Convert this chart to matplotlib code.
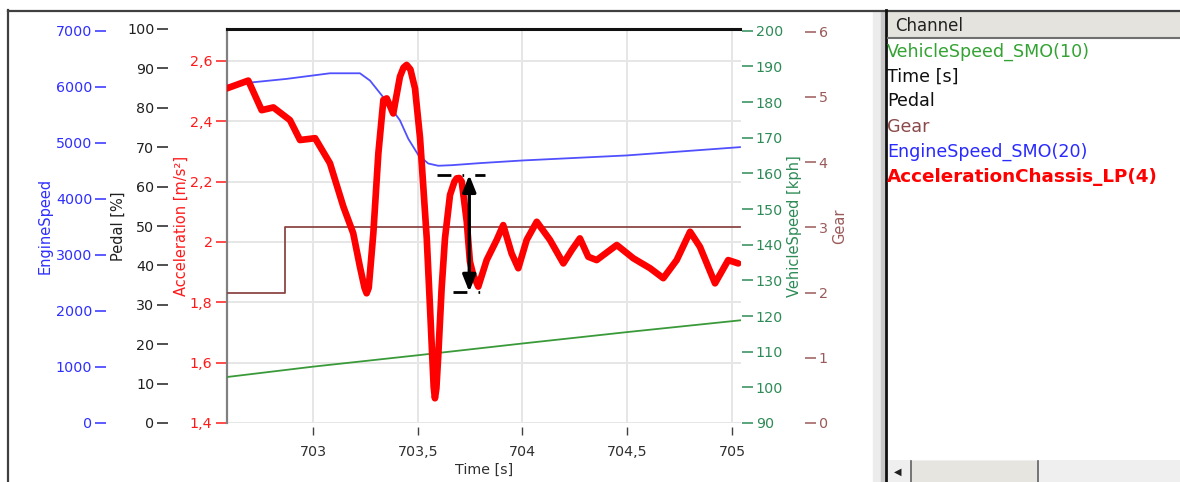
import matplotlib.pyplot as plt
from matplotlib.patches import Rectangle

plt.rcParams['font.family'] = ['DejaVu Sans']

# --- data ---
time_acc = [702.588, 702.691, 702.755, 702.811, 702.890, 702.938, 703.010, 703.081,
            703.145, 703.192, 703.224, 703.246, 703.256, 703.266, 703.288, 703.312,
            703.336, 703.352, 703.383, 703.415, 703.432, 703.447, 703.465, 703.487,
            703.511, 703.527, 703.543, 703.558, 703.569, 703.576, 703.582, 703.589,
            703.598, 703.614, 703.630, 703.654, 703.675, 703.686, 703.698, 703.710,
            703.734, 703.749, 703.765, 703.789, 703.829, 703.877, 703.908, 703.948,
            703.980, 704.020, 704.068, 704.131, 704.195, 704.235, 704.274, 704.314,
            704.354, 704.450, 704.529, 704.609, 704.672, 704.736, 704.800, 704.847,
            704.919, 704.982, 705.030]
accel = [2.509, 2.535, 2.437, 2.446, 2.404, 2.338, 2.344, 2.261,
         2.117, 2.029, 1.918, 1.848, 1.830, 1.848, 2.029, 2.294,
         2.471, 2.476, 2.426, 2.548, 2.578, 2.587, 2.572, 2.509,
         2.344, 2.178, 2.012, 1.791, 1.625, 1.520, 1.482, 1.515,
         1.625, 1.846, 2.012, 2.156, 2.200, 2.211, 2.212, 2.200,
         2.067, 1.935, 1.891, 1.852, 1.940, 2.007, 2.056, 1.962,
         1.913, 2.007, 2.067, 2.007, 1.929, 1.973, 2.012, 1.951,
         1.940, 1.990, 1.946, 1.913, 1.880, 1.940, 2.034, 1.984,
         1.863, 1.940, 1.929]

time_eng = [702.588, 702.715, 702.874, 703.081, 703.224, 703.272, 703.336, 703.415,
            703.455, 703.503, 703.550, 703.598, 703.662, 703.797, 704.004, 704.497, 705.038]
engine_speed = [6020, 6080, 6140, 6240, 6240, 6110, 5810, 5400,
                5070, 4780, 4630, 4590, 4600, 4637, 4685, 4774, 4922]

time_veh = [702.59, 703.0, 703.5, 704.0, 704.5, 705.04]
vehicle_speed = [102.9, 105.8, 109.0, 112.3, 115.5, 118.8]

time_gear = [702.588, 702.866, 705.04]
gear = [2, 3, 3]

time_pedal = [702.588, 705.04]
pedal = [100, 100]

# marked amplitude (first overshoot peak -> next trough)
amp_time = 703.746
amp_top, amp_bottom = 2.222, 1.835
amp_top_span = (703.590, 703.821)
amp_bottom_span = (703.668, 703.845)

x_ticks = [703, 703.5, 704, 704.5, 705]
x_labels = ['703', '703,5', '704', '704,5', '705']
acc_ticks = [1.4, 1.6, 1.8, 2.0, 2.2, 2.4, 2.6]
acc_labels = ['1,4', '1,6', '1,8', '2', '2,2', '2,4', '2,6']
eng_ticks = list(range(0, 7001, 1000))
pedal_ticks = list(range(0, 101, 10))
veh_ticks = list(range(90, 201, 10))
gear_ticks = list(range(0, 7))

channels = ['VehicleSpeed_SMO(10)', 'Time [s]', 'Pedal', 'Gear',
            'EngineSpeed_SMO(20)', 'AccelerationChassis_LP(4)']

c_blue = '#2f2fff'
c_red = '#ff1a1a'
c_green_txt = '#2e8b57'
c_green = '#3a9a3a'
c_brown = '#9b5a5a'
c_brown_line = '#8c4646'
c_black = '#202020'

fig = plt.figure(figsize=(11.8, 4.82), dpi=100)

# window frame / channel list, pixel coordinates
bg = fig.add_axes([0, 0, 1, 1], zorder=-5)
bg.set_xlim(0, 1180)
bg.set_ylim(482, 0)
bg.axis('off')
bg.plot([8, 8], [10, 482], color='#404040', lw=1.6)
bg.plot([8, 1180], [10.5, 10.5], color='#404040', lw=1.6)
bg.add_patch(Rectangle((873, 11), 9, 471, color='#ececec'))
bg.add_patch(Rectangle((881, 11), 3, 471, color='#c8c8c8'))
bg.plot([886, 886], [10, 482], color='#101010', lw=2)
bg.add_patch(Rectangle((888, 12), 292, 25, fc='#e4e3dd', ec='none'))
bg.plot([888, 1180], [37.5, 37.5], color='#707070', lw=1.5)
bg.text(895, 26, 'Channel', fontsize=12, color='#202020', va='center')
ch_colors = ['#33a333', '#101010', '#101010', '#8b4a4a', '#2a2aff', '#ff0000']
for i, (name, col) in enumerate(zip(channels, ch_colors)):
    bold = i == 5
    bg.text(887, 51.5 + 25 * i, name, fontsize=13.2 if bold else 12.6, color=col,
            va='center', fontweight='bold' if bold else 'normal')
bg.add_patch(Rectangle((888, 460), 292, 22, fc='#efefef', ec='none'))
bg.add_patch(Rectangle((912, 461), 126, 21, fc='#e6e5e0', ec='none'))
bg.plot([911, 911], [461, 482], color='#606060', lw=1.2)
bg.plot([1038, 1038], [461, 482], color='#606060', lw=1.2)
bg.text(898, 472, '\u25C0', fontsize=7, color='#202020', ha='center', va='center')

# main axes: acceleration scale, grid and time axis
ax = fig.add_axes([227 / 1180, 59 / 482, 514 / 1180, 394 / 482])
xlim = (702.5895, 705.043)
ax.set_xlim(*xlim)
ax.set_ylim(1.4, 2.706)
for s in ['top', 'right', 'bottom']:
    ax.spines[s].set_visible(False)
ax.spines['bottom'].set_position(('outward', 3))
ax.spines['left'].set_color('#808080')
ax.spines['left'].set_linewidth(1.6)
ax.set_xticks(x_ticks)
ax.set_xticklabels(x_labels)
ax.set_yticks(acc_ticks)
ax.set_yticklabels(acc_labels)
ax.tick_params(axis='x', direction='out', length=6, width=1, color='#404040',
               pad=6.5, labelsize=10.3, labelcolor='#303030')
ax.tick_params(axis='y', direction='out', length=8, width=1.1, color=c_red,
               pad=2.4, labelsize=10.3, labelcolor=c_red)
ax.grid(True, color='#e6e6e6', lw=1.4)
ax.set_axisbelow(True)
ax.set_xlabel('Time [s]', fontsize=10.3, color='#303030', va='top')
ax.xaxis.set_label_coords(0.5, -0.1015)
ax.set_ylabel('Acceleration [m/s\u00b2]', fontsize=10.5, color=c_red)
ax.yaxis.set_label_coords(-0.0739, 0.5)


def side_axis(pos, side, lim, ticks, color, label, label_x, data_t, data_y, lcolor, lw, **kw):
    a = ax.twinx()
    a.set_ylim(*lim)
    for s in a.spines.values():
        s.set_visible(False)
    a.yaxis.set_ticks_position(side)
    a.yaxis.set_label_position(side)
    a.spines[side].set_position(('axes', pos))
    a.set_yticks(ticks)
    a.tick_params(axis='y', direction='out', length=7.6, width=1.1, color=color,
                  pad=2.2, labelsize=10.3, labelcolor=color)
    a.set_ylabel(label, fontsize=10.5, color=color)
    a.yaxis.set_label_coords(label_x, 0.5)
    a.plot(data_t, data_y, color=lcolor, lw=lw, **kw)
    return a


ap = side_axis(-59 / 514, 'left', (0, 100), pedal_ticks, c_black, 'Pedal [%]', -0.1965,
               time_pedal, pedal, '#111111', 2.2, clip_on=False)
ae = side_axis(-121 / 514, 'left', (0, 7030), eng_ticks, c_blue, 'EngineSpeed', -0.339,
               time_eng, engine_speed, '#5050ff', 1.3)
ag = side_axis(1.1245, 'right', (0, 6.04), gear_ticks, c_brown, 'Gear', 1.1765,
               time_gear, gear, c_brown_line, 1.3, drawstyle='steps-post')
av = side_axis(1.002, 'right', (90, 200.5), veh_ticks, c_green_txt, 'VehicleSpeed [kph]', 1.0889,
               time_veh, vehicle_speed, c_green, 1.3)

# acceleration curve on top of everything
ar = ax.twinx()
ar.set_ylim(ax.get_ylim())
ar.set_xlim(*xlim)
ar.axis('off')
ar.plot(time_acc, accel, color='#ff0000', lw=4.8, solid_joinstyle='round',
        solid_capstyle='round')
ar.plot(amp_top_span, [amp_top, amp_top], color='black', lw=2,
        linestyle=(0, (5, 4, 0.6, 4)))
ar.plot(amp_bottom_span, [amp_bottom, amp_bottom], color='black', lw=2,
        linestyle=(0, (5, 4, 0.6, 4)))
ar.annotate('', xy=(amp_time, amp_bottom), xytext=(amp_time, amp_top),
            arrowprops=dict(arrowstyle='<|-|>,head_length=1.0,head_width=0.4',
                            lw=2.4, color='black', shrinkA=0, shrinkB=0))

fig.savefig('out.png', dpi=100)
